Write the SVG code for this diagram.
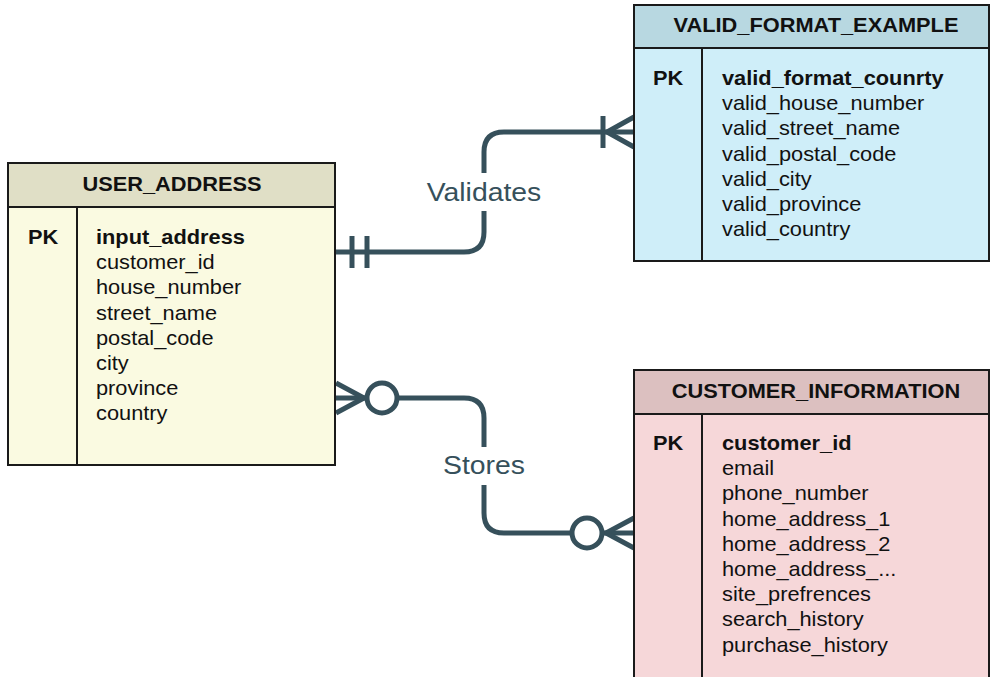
<svg xmlns="http://www.w3.org/2000/svg" width="990" height="677" viewBox="0 0 990 677">
  <style>
    .frame { stroke: #1a1a1a; stroke-width: 2; }
    .div { stroke: #1a1a1a; stroke-width: 2; fill: none; }
    .title { font-family: "Liberation Sans", Arial, sans-serif; font-size: 20px; font-weight: bold; fill: #111; text-anchor: middle; }
    .pk { font-family: "Liberation Sans", Arial, sans-serif; font-size: 20px; font-weight: bold; fill: #111; }
    .field { font-family: "Liberation Sans", Arial, sans-serif; font-size: 20px; fill: #111; }
    .field .key { font-weight: bold; }
    .rel { stroke: #36505b; stroke-width: 5; fill: none; }
    .relfill { stroke: #36505b; stroke-width: 5; fill: #ffffff; }
    .label { font-family: "Liberation Sans", Arial, sans-serif; font-size: 26.5px; fill: #36505b; text-anchor: middle; }
  </style>

  <rect width="990" height="677" fill="#ffffff"/>

  <!-- relationships -->
  <g id="connectors">
    <!-- USER_ADDRESS (one and only one) to VALID_FORMAT_EXAMPLE (one or many) -->
    <g id="rel-validates">
      <path class="rel" d="M335,252 H464 Q484,252 484,232 V211"/>
      <path class="rel" d="M484,173 V152 Q484,132 504,132 H634"/>
      <line class="rel" x1="352" y1="236" x2="352" y2="268"/>
      <line class="rel" x1="367" y1="236" x2="367" y2="268"/>
      <line class="rel" x1="603" y1="116" x2="603" y2="148" stroke-width="6"/>
      <path class="rel" d="M634,117 L607,132 L634,147"/>
      <text class="label" transform="translate(484,201) scale(1.07,1)">Validates</text>
    </g>
    <!-- USER_ADDRESS (zero or many) to CUSTOMER_INFORMATION (zero or many) -->
    <g id="rel-stores">
      <path class="rel" d="M335,398 H464 Q484,398 484,418 V447"/>
      <path class="rel" d="M484,485 V513 Q484,533 504,533 H634"/>
      <path class="rel" d="M336,383 L364,398 L336,413"/>
      <circle class="relfill" cx="382" cy="398" r="15"/>
      <path class="rel" d="M634,518 L606,533 L634,548"/>
      <circle class="relfill" cx="587" cy="533" r="15"/>
      <text class="label" transform="translate(484,474) scale(1.07,1)">Stores</text>
    </g>
  </g>

  <!-- USER_ADDRESS entity -->
  <g id="user_address">
    <rect class="frame" x="8" y="163" width="327" height="44" fill="#e0dfc6"/>
    <rect class="frame" x="8" y="207" width="327" height="258" fill="#fafae1"/>
    <line class="div" x1="77" y1="207" x2="77" y2="465"/>
    <text class="title" transform="translate(172,191) scale(1.09,1)">USER_ADDRESS</text>
    <text class="pk" transform="translate(28,244) scale(1.09,1)">PK</text>
    <text class="field" transform="translate(96,244) scale(1.09,1)">
      <tspan class="key" x="0" y="0">input_address</tspan>
      <tspan x="0" y="25.2">customer_id</tspan>
      <tspan x="0" y="50.4">house_number</tspan>
      <tspan x="0" y="75.6">street_name</tspan>
      <tspan x="0" y="100.8">postal_code</tspan>
      <tspan x="0" y="126">city</tspan>
      <tspan x="0" y="151.2">province</tspan>
      <tspan x="0" y="176.4">country</tspan>
    </text>
  </g>

  <!-- VALID_FORMAT_EXAMPLE entity -->
  <g id="valid_format_example">
    <rect class="frame" x="634" y="5" width="355" height="43" fill="#b8d8e1"/>
    <rect class="frame" x="634" y="48" width="355" height="213" fill="#cfeef9"/>
    <line class="div" x1="702" y1="48" x2="702" y2="261"/>
    <text class="title" transform="translate(816,32) scale(1.09,1)">VALID_FORMAT_EXAMPLE</text>
    <text class="pk" transform="translate(653,85) scale(1.09,1)">PK</text>
    <text class="field" transform="translate(722,85) scale(1.09,1)">
      <tspan class="key" x="0" y="0">valid_format_counrty</tspan>
      <tspan x="0" y="25.2">valid_house_number</tspan>
      <tspan x="0" y="50.4">valid_street_name</tspan>
      <tspan x="0" y="75.6">valid_postal_code</tspan>
      <tspan x="0" y="100.8">valid_city</tspan>
      <tspan x="0" y="126">valid_province</tspan>
      <tspan x="0" y="151.2">valid_country</tspan>
    </text>
  </g>

  <!-- CUSTOMER_INFORMATION entity -->
  <g id="customer_information">
    <rect class="frame" x="634" y="370" width="355" height="44" fill="#dcc0c0"/>
    <rect class="frame" x="634" y="414" width="355" height="280" fill="#f6d7d9"/>
    <line class="div" x1="702" y1="414" x2="702" y2="690"/>
    <text class="title" transform="translate(816,398) scale(1.09,1)">CUSTOMER_INFORMATION</text>
    <text class="pk" transform="translate(653,450) scale(1.09,1)">PK</text>
    <text class="field" transform="translate(722,450) scale(1.09,1)">
      <tspan class="key" x="0" y="0">customer_id</tspan>
      <tspan x="0" y="25.2">email</tspan>
      <tspan x="0" y="50.4">phone_number</tspan>
      <tspan x="0" y="75.6">home_address_1</tspan>
      <tspan x="0" y="100.8">home_address_2</tspan>
      <tspan x="0" y="126">home_address_...</tspan>
      <tspan x="0" y="151.2">site_prefrences</tspan>
      <tspan x="0" y="176.4">search_history</tspan>
      <tspan x="0" y="201.6">purchase_history</tspan>
    </text>
  </g>
</svg>
